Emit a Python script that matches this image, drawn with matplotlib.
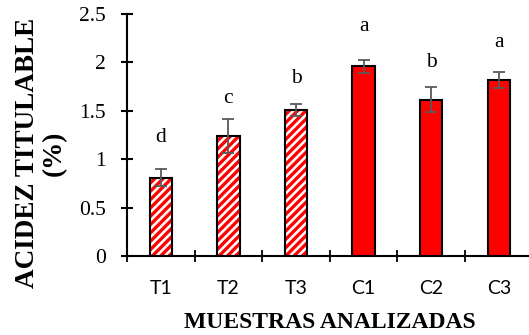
import numpy as np
import matplotlib.pyplot as plt

plt.rcParams['hatch.linewidth'] = 2.4

# datos de acidez titulable por muestra
muestras = ['T1', 'T2', 'T3', 'C1', 'C2', 'C3']
acidez = [0.81, 1.24, 1.51, 1.96, 1.615, 1.82]
desv = [0.09, 0.18, 0.06, 0.065, 0.13, 0.08]
letras = ['d', 'c', 'b', 'a', 'b', 'a']
altura_letras = [1.22, 1.63, 1.83, 2.37, 2.00, 2.21]
rayadas = [True, True, True, False, False, False]

fig = plt.figure(figsize=(5.29, 3.35), dpi=100)
ax = fig.add_axes([0.240, 0.236, 0.767, 0.722])

x = np.arange(len(muestras))
ancho = 0.33

for xi, v, r in zip(x, acidez, rayadas):
    if r:
        # relleno rayado rojo sobre blanco
        ax.bar(xi, v, width=ancho, color='white', edgecolor='#ff0000',
               hatch='////', linewidth=0, zorder=2)
        ax.bar(xi, v, width=ancho, fill=False, edgecolor='black',
               linewidth=1.5, zorder=3)
    else:
        ax.bar(xi, v, width=ancho, color='#ff0000', edgecolor='black',
               linewidth=1.5, zorder=3)

ax.errorbar(x, acidez, yerr=desv, fmt='none', ecolor='#595959',
            elinewidth=1.3, capsize=4, capthick=1.3, zorder=4)

for xi, h, l in zip(x, altura_letras, letras):
    ax.text(xi, h, l, ha='center', va='center', fontsize=15.5,
            family='Liberation Serif')

ax.set_xlim(-0.5, 5.5)
ax.set_ylim(0, 2.5)
ax.set_yticks([0, 0.5, 1, 1.5, 2, 2.5])
ax.set_yticklabels(['0', '0.5', '1', '1.5', '2', '2.5'],
                   family='Liberation Serif', fontsize=15.5)
ax.set_xticks(x)
ax.set_xticklabels(muestras, family='Lato', fontsize=14)
ax.set_xticks(np.arange(-0.5, 6, 1), minor=True)

ax.tick_params(axis='x', which='major', length=0, pad=17)
ax.tick_params(axis='x', which='minor', direction='inout', length=8, width=1.3)
ax.tick_params(axis='y', direction='inout', length=8, width=1.5, pad=11)

for s in ['top', 'right']:
    ax.spines[s].set_visible(False)
ax.spines['left'].set_linewidth(1.5)
ax.spines['bottom'].set_linewidth(1.5)

fig.text(330 / 529, 1 - 322 / 335, 'MUESTRAS ANALIZADAS', ha='center',
         va='center', fontsize=17, fontweight='bold', family='Liberation Serif')
fig.text(41 / 529, 1 - 153 / 335, 'ACIDEZ TITULABLE\n(%)', ha='center',
         va='center', rotation=90, fontsize=19.5, fontweight='bold',
         family='Liberation Serif', multialignment='center', linespacing=1.1)

fig.savefig('out.png', dpi=100)
